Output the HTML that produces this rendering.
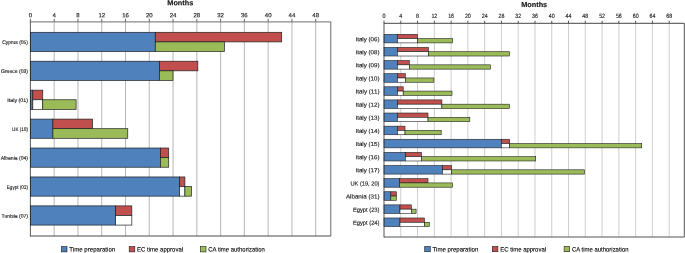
<!DOCTYPE html>
<html><head><meta charset="utf-8"><title>Months</title>
<style>
html,body{margin:0;padding:0;background:#fff;}
body{width:685px;height:253px;overflow:hidden;}
svg{display:block;font-family:"Liberation Sans",sans-serif;}
</style></head><body>
<svg width="685" height="253" viewBox="0 0 685 253">
<defs><filter id="soft" x="0" y="0" width="685" height="253" filterUnits="userSpaceOnUse"><feGaussianBlur stdDeviation="0.35"/></filter></defs>
<rect x="0" y="0" width="685" height="253" fill="#ffffff"/>
<g filter="url(#soft)">
<line x1="54.18" y1="21.80" x2="54.18" y2="236.00" stroke="#858585" stroke-width="0.6"/>
<line x1="77.95" y1="21.80" x2="77.95" y2="236.00" stroke="#858585" stroke-width="0.6"/>
<line x1="101.73" y1="21.80" x2="101.73" y2="236.00" stroke="#858585" stroke-width="0.6"/>
<line x1="125.50" y1="21.80" x2="125.50" y2="236.00" stroke="#858585" stroke-width="0.6"/>
<line x1="149.28" y1="21.80" x2="149.28" y2="236.00" stroke="#858585" stroke-width="0.6"/>
<line x1="173.06" y1="21.80" x2="173.06" y2="236.00" stroke="#858585" stroke-width="0.6"/>
<line x1="196.83" y1="21.80" x2="196.83" y2="236.00" stroke="#858585" stroke-width="0.6"/>
<line x1="220.61" y1="21.80" x2="220.61" y2="236.00" stroke="#858585" stroke-width="0.6"/>
<line x1="244.38" y1="21.80" x2="244.38" y2="236.00" stroke="#858585" stroke-width="0.6"/>
<line x1="268.16" y1="21.80" x2="268.16" y2="236.00" stroke="#858585" stroke-width="0.6"/>
<line x1="291.94" y1="21.80" x2="291.94" y2="236.00" stroke="#858585" stroke-width="0.6"/>
<line x1="315.71" y1="21.80" x2="315.71" y2="236.00" stroke="#858585" stroke-width="0.6"/>
<line x1="30.40" y1="21.80" x2="330.80" y2="21.80" stroke="#8a8a8a" stroke-width="1.2"/>
<line x1="330.80" y1="21.80" x2="330.80" y2="236.00" stroke="#5a5a5a" stroke-width="0.9"/>
<line x1="30.40" y1="236.00" x2="330.80" y2="236.00" stroke="#4a4a4a" stroke-width="1.0"/>
<line x1="30.40" y1="18.80" x2="30.40" y2="21.80" stroke="#555" stroke-width="0.9"/>
<text transform="rotate(0.03 30.40 17.30)" x="30.40" y="17.30" font-size="6.0" text-anchor="middle" font-weight="normal" fill="#111" stroke="#111" stroke-width="0.12">0</text>
<line x1="54.18" y1="18.80" x2="54.18" y2="21.80" stroke="#555" stroke-width="0.9"/>
<text transform="rotate(0.03 54.18 17.30)" x="54.18" y="17.30" font-size="6.0" text-anchor="middle" font-weight="normal" fill="#111" stroke="#111" stroke-width="0.12">4</text>
<line x1="77.95" y1="18.80" x2="77.95" y2="21.80" stroke="#555" stroke-width="0.9"/>
<text transform="rotate(0.03 77.95 17.30)" x="77.95" y="17.30" font-size="6.0" text-anchor="middle" font-weight="normal" fill="#111" stroke="#111" stroke-width="0.12">8</text>
<line x1="101.73" y1="18.80" x2="101.73" y2="21.80" stroke="#555" stroke-width="0.9"/>
<text transform="rotate(0.03 101.73 17.30)" x="101.73" y="17.30" font-size="6.0" text-anchor="middle" font-weight="normal" fill="#111" stroke="#111" stroke-width="0.12">12</text>
<line x1="125.50" y1="18.80" x2="125.50" y2="21.80" stroke="#555" stroke-width="0.9"/>
<text transform="rotate(0.03 125.50 17.30)" x="125.50" y="17.30" font-size="6.0" text-anchor="middle" font-weight="normal" fill="#111" stroke="#111" stroke-width="0.12">16</text>
<line x1="149.28" y1="18.80" x2="149.28" y2="21.80" stroke="#555" stroke-width="0.9"/>
<text transform="rotate(0.03 149.28 17.30)" x="149.28" y="17.30" font-size="6.0" text-anchor="middle" font-weight="normal" fill="#111" stroke="#111" stroke-width="0.12">20</text>
<line x1="173.06" y1="18.80" x2="173.06" y2="21.80" stroke="#555" stroke-width="0.9"/>
<text transform="rotate(0.03 173.06 17.30)" x="173.06" y="17.30" font-size="6.0" text-anchor="middle" font-weight="normal" fill="#111" stroke="#111" stroke-width="0.12">24</text>
<line x1="196.83" y1="18.80" x2="196.83" y2="21.80" stroke="#555" stroke-width="0.9"/>
<text transform="rotate(0.03 196.83 17.30)" x="196.83" y="17.30" font-size="6.0" text-anchor="middle" font-weight="normal" fill="#111" stroke="#111" stroke-width="0.12">28</text>
<line x1="220.61" y1="18.80" x2="220.61" y2="21.80" stroke="#555" stroke-width="0.9"/>
<text transform="rotate(0.03 220.61 17.30)" x="220.61" y="17.30" font-size="6.0" text-anchor="middle" font-weight="normal" fill="#111" stroke="#111" stroke-width="0.12">32</text>
<line x1="244.38" y1="18.80" x2="244.38" y2="21.80" stroke="#555" stroke-width="0.9"/>
<text transform="rotate(0.03 244.38 17.30)" x="244.38" y="17.30" font-size="6.0" text-anchor="middle" font-weight="normal" fill="#111" stroke="#111" stroke-width="0.12">36</text>
<line x1="268.16" y1="18.80" x2="268.16" y2="21.80" stroke="#555" stroke-width="0.9"/>
<text transform="rotate(0.03 268.16 17.30)" x="268.16" y="17.30" font-size="6.0" text-anchor="middle" font-weight="normal" fill="#111" stroke="#111" stroke-width="0.12">40</text>
<line x1="291.94" y1="18.80" x2="291.94" y2="21.80" stroke="#555" stroke-width="0.9"/>
<text transform="rotate(0.03 291.94 17.30)" x="291.94" y="17.30" font-size="6.0" text-anchor="middle" font-weight="normal" fill="#111" stroke="#111" stroke-width="0.12">44</text>
<line x1="315.71" y1="18.80" x2="315.71" y2="21.80" stroke="#555" stroke-width="0.9"/>
<text transform="rotate(0.03 315.71 17.30)" x="315.71" y="17.30" font-size="6.0" text-anchor="middle" font-weight="normal" fill="#111" stroke="#111" stroke-width="0.12">48</text>
<text transform="rotate(0.03 180.30 5.30)" x="180.30" y="5.30" font-size="7.3" text-anchor="middle" font-weight="bold" fill="#111" stroke="#111" stroke-width="0.12">Months</text>
<rect x="30.40" y="32.30" width="124.90" height="19.20" fill="#4f81bd" stroke="#202020" stroke-width="0.7"/>
<rect x="155.30" y="32.30" width="126.40" height="9.60" fill="#c0504d" stroke="#202020" stroke-width="0.7"/>
<rect x="155.30" y="41.90" width="69.10" height="9.60" fill="#9bbb59" stroke="#202020" stroke-width="0.7"/>
<text transform="rotate(0.03 28.00 44.10)" x="28.00" y="44.10" font-size="5.2" text-anchor="end" font-weight="normal" fill="#111" stroke="#111" stroke-width="0.12" textLength="25.8" lengthAdjust="spacingAndGlyphs">Cyprus (05)</text>
<rect x="30.40" y="61.23" width="129.10" height="19.20" fill="#4f81bd" stroke="#202020" stroke-width="0.7"/>
<rect x="159.50" y="61.23" width="38.30" height="9.60" fill="#c0504d" stroke="#202020" stroke-width="0.7"/>
<rect x="159.50" y="70.83" width="13.50" height="9.60" fill="#9bbb59" stroke="#202020" stroke-width="0.7"/>
<text transform="rotate(0.03 28.00 73.03)" x="28.00" y="73.03" font-size="5.2" text-anchor="end" font-weight="normal" fill="#111" stroke="#111" stroke-width="0.12" textLength="27.0" lengthAdjust="spacingAndGlyphs">Greece (03)</text>
<rect x="30.40" y="90.16" width="2.40" height="19.20" fill="#4f81bd" stroke="#202020" stroke-width="0.7"/>
<rect x="32.80" y="90.16" width="9.95" height="9.60" fill="#c0504d" stroke="#202020" stroke-width="0.7"/>
<rect x="32.80" y="99.76" width="9.95" height="9.60" fill="#fff" stroke="#202020" stroke-width="0.7"/>
<rect x="42.75" y="99.76" width="33.35" height="9.60" fill="#9bbb59" stroke="#202020" stroke-width="0.7"/>
<text transform="rotate(0.03 28.00 101.96)" x="28.00" y="101.96" font-size="5.2" text-anchor="end" font-weight="normal" fill="#111" stroke="#111" stroke-width="0.12" textLength="20.7" lengthAdjust="spacingAndGlyphs">Italy (01)</text>
<rect x="30.40" y="119.09" width="22.50" height="19.20" fill="#4f81bd" stroke="#202020" stroke-width="0.7"/>
<rect x="52.90" y="119.09" width="39.70" height="9.60" fill="#c0504d" stroke="#202020" stroke-width="0.7"/>
<rect x="52.90" y="128.69" width="74.85" height="9.60" fill="#9bbb59" stroke="#202020" stroke-width="0.7"/>
<text transform="rotate(0.03 28.00 130.89)" x="28.00" y="130.89" font-size="5.2" text-anchor="end" font-weight="normal" fill="#111" stroke="#111" stroke-width="0.12" textLength="15.9" lengthAdjust="spacingAndGlyphs">UK (18)</text>
<rect x="30.40" y="148.02" width="130.00" height="19.20" fill="#4f81bd" stroke="#202020" stroke-width="0.7"/>
<rect x="160.40" y="148.02" width="8.30" height="9.60" fill="#c0504d" stroke="#202020" stroke-width="0.7"/>
<rect x="160.40" y="157.62" width="8.30" height="9.60" fill="#9bbb59" stroke="#202020" stroke-width="0.7"/>
<text transform="rotate(0.03 28.00 159.82)" x="28.00" y="159.82" font-size="5.2" text-anchor="end" font-weight="normal" fill="#111" stroke="#111" stroke-width="0.12" textLength="27.3" lengthAdjust="spacingAndGlyphs">Albania (04)</text>
<rect x="30.40" y="176.95" width="149.20" height="19.20" fill="#4f81bd" stroke="#202020" stroke-width="0.7"/>
<rect x="179.60" y="176.95" width="5.30" height="9.60" fill="#c0504d" stroke="#202020" stroke-width="0.7"/>
<rect x="179.60" y="186.55" width="5.30" height="9.60" fill="#fff" stroke="#202020" stroke-width="0.7"/>
<rect x="184.90" y="186.55" width="6.60" height="9.60" fill="#9bbb59" stroke="#202020" stroke-width="0.7"/>
<text transform="rotate(0.03 28.00 188.75)" x="28.00" y="188.75" font-size="5.2" text-anchor="end" font-weight="normal" fill="#111" stroke="#111" stroke-width="0.12" textLength="21.2" lengthAdjust="spacingAndGlyphs">Egypt (02)</text>
<rect x="30.40" y="205.88" width="85.20" height="19.20" fill="#4f81bd" stroke="#202020" stroke-width="0.7"/>
<rect x="115.60" y="205.88" width="16.20" height="9.60" fill="#c0504d" stroke="#202020" stroke-width="0.7"/>
<rect x="115.60" y="215.48" width="16.20" height="9.60" fill="#fff" stroke="#202020" stroke-width="0.7"/>
<text transform="rotate(0.03 28.00 217.68)" x="28.00" y="217.68" font-size="5.2" text-anchor="end" font-weight="normal" fill="#111" stroke="#111" stroke-width="0.12" textLength="26.5" lengthAdjust="spacingAndGlyphs">Tunisia (07)</text>
<line x1="30.40" y1="21.30" x2="30.40" y2="236.50" stroke="#222" stroke-width="0.75"/>
<rect x="61.40" y="246.60" width="5.60" height="5.30" fill="#4f81bd" stroke="#202020" stroke-width="0.6"/>
<text transform="rotate(0.03 69.30 251.60)" x="69.30" y="251.60" font-size="6.3" textLength="45.9" lengthAdjust="spacingAndGlyphs" fill="#000" stroke="#000" stroke-width="0.12">Time preparation</text>
<rect x="129.20" y="246.60" width="5.60" height="5.30" fill="#c0504d" stroke="#202020" stroke-width="0.6"/>
<text transform="rotate(0.03 137.10 251.60)" x="137.10" y="251.60" font-size="6.3" textLength="46.0" lengthAdjust="spacingAndGlyphs" fill="#000" stroke="#000" stroke-width="0.12">EC time approval</text>
<rect x="200.40" y="246.60" width="5.60" height="5.30" fill="#9bbb59" stroke="#202020" stroke-width="0.6"/>
<text transform="rotate(0.03 208.30 251.60)" x="208.30" y="251.60" font-size="6.3" textLength="56.5" lengthAdjust="spacingAndGlyphs" fill="#000" stroke="#000" stroke-width="0.12">CA time authorization</text>
<line x1="400.78" y1="23.30" x2="400.78" y2="237.00" stroke="#adadad" stroke-width="0.6"/>
<line x1="417.55" y1="23.30" x2="417.55" y2="237.00" stroke="#adadad" stroke-width="0.6"/>
<line x1="434.33" y1="23.30" x2="434.33" y2="237.00" stroke="#adadad" stroke-width="0.6"/>
<line x1="451.10" y1="23.30" x2="451.10" y2="237.00" stroke="#adadad" stroke-width="0.6"/>
<line x1="467.88" y1="23.30" x2="467.88" y2="237.00" stroke="#adadad" stroke-width="0.6"/>
<line x1="484.66" y1="23.30" x2="484.66" y2="237.00" stroke="#adadad" stroke-width="0.6"/>
<line x1="501.43" y1="23.30" x2="501.43" y2="237.00" stroke="#adadad" stroke-width="0.6"/>
<line x1="518.21" y1="23.30" x2="518.21" y2="237.00" stroke="#adadad" stroke-width="0.6"/>
<line x1="534.98" y1="23.30" x2="534.98" y2="237.00" stroke="#adadad" stroke-width="0.6"/>
<line x1="551.76" y1="23.30" x2="551.76" y2="237.00" stroke="#adadad" stroke-width="0.6"/>
<line x1="568.54" y1="23.30" x2="568.54" y2="237.00" stroke="#adadad" stroke-width="0.6"/>
<line x1="585.31" y1="23.30" x2="585.31" y2="237.00" stroke="#adadad" stroke-width="0.6"/>
<line x1="602.09" y1="23.30" x2="602.09" y2="237.00" stroke="#adadad" stroke-width="0.6"/>
<line x1="618.86" y1="23.30" x2="618.86" y2="237.00" stroke="#adadad" stroke-width="0.6"/>
<line x1="635.64" y1="23.30" x2="635.64" y2="237.00" stroke="#adadad" stroke-width="0.6"/>
<line x1="652.42" y1="23.30" x2="652.42" y2="237.00" stroke="#adadad" stroke-width="0.6"/>
<line x1="669.19" y1="23.30" x2="669.19" y2="237.00" stroke="#adadad" stroke-width="0.6"/>
<line x1="384.00" y1="23.30" x2="684.30" y2="23.30" stroke="#444" stroke-width="1.0"/>
<line x1="684.30" y1="23.30" x2="684.30" y2="237.00" stroke="#555" stroke-width="1"/>
<line x1="384.00" y1="237.00" x2="684.30" y2="237.00" stroke="#555" stroke-width="1.0"/>
<line x1="384.00" y1="20.70" x2="384.00" y2="23.30" stroke="#444" stroke-width="0.9"/>
<text transform="rotate(0.03 384.00 18.35)" x="384.00" y="18.35" font-size="6.2" text-anchor="middle" font-weight="normal" fill="#111" stroke="#111" stroke-width="0.12" textLength="3.0" lengthAdjust="spacingAndGlyphs">0</text>
<line x1="400.78" y1="20.70" x2="400.78" y2="23.30" stroke="#444" stroke-width="0.9"/>
<text transform="rotate(0.03 400.78 18.35)" x="400.78" y="18.35" font-size="6.2" text-anchor="middle" font-weight="normal" fill="#111" stroke="#111" stroke-width="0.12" textLength="3.0" lengthAdjust="spacingAndGlyphs">4</text>
<line x1="417.55" y1="20.70" x2="417.55" y2="23.30" stroke="#444" stroke-width="0.9"/>
<text transform="rotate(0.03 417.55 18.35)" x="417.55" y="18.35" font-size="6.2" text-anchor="middle" font-weight="normal" fill="#111" stroke="#111" stroke-width="0.12" textLength="3.0" lengthAdjust="spacingAndGlyphs">8</text>
<line x1="434.33" y1="20.70" x2="434.33" y2="23.30" stroke="#444" stroke-width="0.9"/>
<text transform="rotate(0.03 434.33 18.35)" x="434.33" y="18.35" font-size="6.2" text-anchor="middle" font-weight="normal" fill="#111" stroke="#111" stroke-width="0.12" textLength="5.9" lengthAdjust="spacingAndGlyphs">12</text>
<line x1="451.10" y1="20.70" x2="451.10" y2="23.30" stroke="#444" stroke-width="0.9"/>
<text transform="rotate(0.03 451.10 18.35)" x="451.10" y="18.35" font-size="6.2" text-anchor="middle" font-weight="normal" fill="#111" stroke="#111" stroke-width="0.12" textLength="5.9" lengthAdjust="spacingAndGlyphs">16</text>
<line x1="467.88" y1="20.70" x2="467.88" y2="23.30" stroke="#444" stroke-width="0.9"/>
<text transform="rotate(0.03 467.88 18.35)" x="467.88" y="18.35" font-size="6.2" text-anchor="middle" font-weight="normal" fill="#111" stroke="#111" stroke-width="0.12" textLength="5.9" lengthAdjust="spacingAndGlyphs">20</text>
<line x1="484.66" y1="20.70" x2="484.66" y2="23.30" stroke="#444" stroke-width="0.9"/>
<text transform="rotate(0.03 484.66 18.35)" x="484.66" y="18.35" font-size="6.2" text-anchor="middle" font-weight="normal" fill="#111" stroke="#111" stroke-width="0.12" textLength="5.9" lengthAdjust="spacingAndGlyphs">24</text>
<line x1="501.43" y1="20.70" x2="501.43" y2="23.30" stroke="#444" stroke-width="0.9"/>
<text transform="rotate(0.03 501.43 18.35)" x="501.43" y="18.35" font-size="6.2" text-anchor="middle" font-weight="normal" fill="#111" stroke="#111" stroke-width="0.12" textLength="5.9" lengthAdjust="spacingAndGlyphs">28</text>
<line x1="518.21" y1="20.70" x2="518.21" y2="23.30" stroke="#444" stroke-width="0.9"/>
<text transform="rotate(0.03 518.21 18.35)" x="518.21" y="18.35" font-size="6.2" text-anchor="middle" font-weight="normal" fill="#111" stroke="#111" stroke-width="0.12" textLength="5.9" lengthAdjust="spacingAndGlyphs">32</text>
<line x1="534.98" y1="20.70" x2="534.98" y2="23.30" stroke="#444" stroke-width="0.9"/>
<text transform="rotate(0.03 534.98 18.35)" x="534.98" y="18.35" font-size="6.2" text-anchor="middle" font-weight="normal" fill="#111" stroke="#111" stroke-width="0.12" textLength="5.9" lengthAdjust="spacingAndGlyphs">36</text>
<line x1="551.76" y1="20.70" x2="551.76" y2="23.30" stroke="#444" stroke-width="0.9"/>
<text transform="rotate(0.03 551.76 18.35)" x="551.76" y="18.35" font-size="6.2" text-anchor="middle" font-weight="normal" fill="#111" stroke="#111" stroke-width="0.12" textLength="5.9" lengthAdjust="spacingAndGlyphs">40</text>
<line x1="568.54" y1="20.70" x2="568.54" y2="23.30" stroke="#444" stroke-width="0.9"/>
<text transform="rotate(0.03 568.54 18.35)" x="568.54" y="18.35" font-size="6.2" text-anchor="middle" font-weight="normal" fill="#111" stroke="#111" stroke-width="0.12" textLength="5.9" lengthAdjust="spacingAndGlyphs">44</text>
<line x1="585.31" y1="20.70" x2="585.31" y2="23.30" stroke="#444" stroke-width="0.9"/>
<text transform="rotate(0.03 585.31 18.35)" x="585.31" y="18.35" font-size="6.2" text-anchor="middle" font-weight="normal" fill="#111" stroke="#111" stroke-width="0.12" textLength="5.9" lengthAdjust="spacingAndGlyphs">48</text>
<line x1="602.09" y1="20.70" x2="602.09" y2="23.30" stroke="#444" stroke-width="0.9"/>
<text transform="rotate(0.03 602.09 18.35)" x="602.09" y="18.35" font-size="6.2" text-anchor="middle" font-weight="normal" fill="#111" stroke="#111" stroke-width="0.12" textLength="5.9" lengthAdjust="spacingAndGlyphs">52</text>
<line x1="618.86" y1="20.70" x2="618.86" y2="23.30" stroke="#444" stroke-width="0.9"/>
<text transform="rotate(0.03 618.86 18.35)" x="618.86" y="18.35" font-size="6.2" text-anchor="middle" font-weight="normal" fill="#111" stroke="#111" stroke-width="0.12" textLength="5.9" lengthAdjust="spacingAndGlyphs">56</text>
<line x1="635.64" y1="20.70" x2="635.64" y2="23.30" stroke="#444" stroke-width="0.9"/>
<text transform="rotate(0.03 635.64 18.35)" x="635.64" y="18.35" font-size="6.2" text-anchor="middle" font-weight="normal" fill="#111" stroke="#111" stroke-width="0.12" textLength="5.9" lengthAdjust="spacingAndGlyphs">60</text>
<line x1="652.42" y1="20.70" x2="652.42" y2="23.30" stroke="#444" stroke-width="0.9"/>
<text transform="rotate(0.03 652.42 18.35)" x="652.42" y="18.35" font-size="6.2" text-anchor="middle" font-weight="normal" fill="#111" stroke="#111" stroke-width="0.12" textLength="5.9" lengthAdjust="spacingAndGlyphs">64</text>
<line x1="669.19" y1="20.70" x2="669.19" y2="23.30" stroke="#444" stroke-width="0.9"/>
<text transform="rotate(0.03 669.19 18.35)" x="669.19" y="18.35" font-size="6.2" text-anchor="middle" font-weight="normal" fill="#111" stroke="#111" stroke-width="0.12" textLength="5.9" lengthAdjust="spacingAndGlyphs">68</text>
<text transform="rotate(0.03 534.20 7.00)" x="534.20" y="7.00" font-size="7.3" text-anchor="middle" font-weight="bold" fill="#111" stroke="#111" stroke-width="0.12">Months</text>
<rect x="384.00" y="34.30" width="13.40" height="8.60" fill="#4f81bd" stroke="#202020" stroke-width="0.6"/>
<rect x="397.40" y="34.30" width="20.00" height="4.30" fill="#c0504d" stroke="#202020" stroke-width="0.6"/>
<rect x="397.40" y="38.60" width="20.00" height="4.30" fill="#fff" stroke="#202020" stroke-width="0.6"/>
<rect x="417.40" y="38.60" width="35.20" height="4.30" fill="#9bbb59" stroke="#202020" stroke-width="0.6"/>
<text transform="rotate(0.03 379.50 41.15)" x="379.50" y="41.15" font-size="5.9" text-anchor="end" font-weight="normal" fill="#111" stroke="#111" stroke-width="0.12" textLength="24.0" lengthAdjust="spacingAndGlyphs">Italy (06)</text>
<rect x="384.00" y="47.42" width="13.40" height="8.60" fill="#4f81bd" stroke="#202020" stroke-width="0.6"/>
<rect x="397.40" y="47.42" width="31.10" height="4.30" fill="#c0504d" stroke="#202020" stroke-width="0.6"/>
<rect x="397.40" y="51.72" width="31.10" height="4.30" fill="#fff" stroke="#202020" stroke-width="0.6"/>
<rect x="428.50" y="51.72" width="81.00" height="4.30" fill="#9bbb59" stroke="#202020" stroke-width="0.6"/>
<text transform="rotate(0.03 379.50 54.27)" x="379.50" y="54.27" font-size="5.9" text-anchor="end" font-weight="normal" fill="#111" stroke="#111" stroke-width="0.12" textLength="24.0" lengthAdjust="spacingAndGlyphs">Italy (08)</text>
<rect x="384.00" y="60.54" width="13.40" height="8.60" fill="#4f81bd" stroke="#202020" stroke-width="0.6"/>
<rect x="397.40" y="60.54" width="11.90" height="4.30" fill="#c0504d" stroke="#202020" stroke-width="0.6"/>
<rect x="397.40" y="64.84" width="11.90" height="4.30" fill="#fff" stroke="#202020" stroke-width="0.6"/>
<rect x="409.30" y="64.84" width="81.20" height="4.30" fill="#9bbb59" stroke="#202020" stroke-width="0.6"/>
<text transform="rotate(0.03 379.50 67.39)" x="379.50" y="67.39" font-size="5.9" text-anchor="end" font-weight="normal" fill="#111" stroke="#111" stroke-width="0.12" textLength="24.0" lengthAdjust="spacingAndGlyphs">Italy (09)</text>
<rect x="384.00" y="73.66" width="13.40" height="8.60" fill="#4f81bd" stroke="#202020" stroke-width="0.6"/>
<rect x="397.40" y="73.66" width="7.90" height="4.30" fill="#c0504d" stroke="#202020" stroke-width="0.6"/>
<rect x="397.40" y="77.96" width="7.90" height="4.30" fill="#fff" stroke="#202020" stroke-width="0.6"/>
<rect x="405.30" y="77.96" width="28.60" height="4.30" fill="#9bbb59" stroke="#202020" stroke-width="0.6"/>
<text transform="rotate(0.03 379.50 80.51)" x="379.50" y="80.51" font-size="5.9" text-anchor="end" font-weight="normal" fill="#111" stroke="#111" stroke-width="0.12" textLength="24.0" lengthAdjust="spacingAndGlyphs">Italy (10)</text>
<rect x="384.00" y="86.78" width="13.40" height="8.60" fill="#4f81bd" stroke="#202020" stroke-width="0.6"/>
<rect x="397.40" y="86.78" width="5.80" height="4.30" fill="#c0504d" stroke="#202020" stroke-width="0.6"/>
<rect x="397.40" y="91.08" width="5.80" height="4.30" fill="#fff" stroke="#202020" stroke-width="0.6"/>
<rect x="403.20" y="91.08" width="48.80" height="4.30" fill="#9bbb59" stroke="#202020" stroke-width="0.6"/>
<text transform="rotate(0.03 379.50 93.63)" x="379.50" y="93.63" font-size="5.9" text-anchor="end" font-weight="normal" fill="#111" stroke="#111" stroke-width="0.12" textLength="24.0" lengthAdjust="spacingAndGlyphs">Italy (11)</text>
<rect x="384.00" y="99.90" width="13.40" height="8.60" fill="#4f81bd" stroke="#202020" stroke-width="0.6"/>
<rect x="397.40" y="99.90" width="44.50" height="4.30" fill="#c0504d" stroke="#202020" stroke-width="0.6"/>
<rect x="397.40" y="104.20" width="44.50" height="4.30" fill="#fff" stroke="#202020" stroke-width="0.6"/>
<rect x="441.90" y="104.20" width="67.60" height="4.30" fill="#9bbb59" stroke="#202020" stroke-width="0.6"/>
<text transform="rotate(0.03 379.50 106.75)" x="379.50" y="106.75" font-size="5.9" text-anchor="end" font-weight="normal" fill="#111" stroke="#111" stroke-width="0.12" textLength="24.0" lengthAdjust="spacingAndGlyphs">Italy (12)</text>
<rect x="384.00" y="113.02" width="13.40" height="8.60" fill="#4f81bd" stroke="#202020" stroke-width="0.6"/>
<rect x="397.40" y="113.02" width="30.60" height="4.30" fill="#c0504d" stroke="#202020" stroke-width="0.6"/>
<rect x="397.40" y="117.32" width="30.60" height="4.30" fill="#fff" stroke="#202020" stroke-width="0.6"/>
<rect x="428.00" y="117.32" width="41.80" height="4.30" fill="#9bbb59" stroke="#202020" stroke-width="0.6"/>
<text transform="rotate(0.03 379.50 119.87)" x="379.50" y="119.87" font-size="5.9" text-anchor="end" font-weight="normal" fill="#111" stroke="#111" stroke-width="0.12" textLength="24.0" lengthAdjust="spacingAndGlyphs">Italy (13)</text>
<rect x="384.00" y="126.14" width="13.40" height="8.60" fill="#4f81bd" stroke="#202020" stroke-width="0.6"/>
<rect x="397.40" y="126.14" width="7.60" height="4.30" fill="#c0504d" stroke="#202020" stroke-width="0.6"/>
<rect x="397.40" y="130.44" width="7.60" height="4.30" fill="#fff" stroke="#202020" stroke-width="0.6"/>
<rect x="405.00" y="130.44" width="36.20" height="4.30" fill="#9bbb59" stroke="#202020" stroke-width="0.6"/>
<text transform="rotate(0.03 379.50 132.99)" x="379.50" y="132.99" font-size="5.9" text-anchor="end" font-weight="normal" fill="#111" stroke="#111" stroke-width="0.12" textLength="24.0" lengthAdjust="spacingAndGlyphs">Italy (14)</text>
<rect x="384.00" y="139.26" width="117.40" height="8.60" fill="#4f81bd" stroke="#202020" stroke-width="0.6"/>
<rect x="501.40" y="139.26" width="8.30" height="4.30" fill="#c0504d" stroke="#202020" stroke-width="0.6"/>
<rect x="501.40" y="143.56" width="8.30" height="4.30" fill="#fff" stroke="#202020" stroke-width="0.6"/>
<rect x="509.70" y="143.56" width="132.00" height="4.30" fill="#9bbb59" stroke="#202020" stroke-width="0.6"/>
<text transform="rotate(0.03 379.50 146.11)" x="379.50" y="146.11" font-size="5.9" text-anchor="end" font-weight="normal" fill="#111" stroke="#111" stroke-width="0.12" textLength="24.0" lengthAdjust="spacingAndGlyphs">Italy (15)</text>
<rect x="384.00" y="152.38" width="21.30" height="8.60" fill="#4f81bd" stroke="#202020" stroke-width="0.6"/>
<rect x="405.30" y="152.38" width="16.20" height="4.30" fill="#c0504d" stroke="#202020" stroke-width="0.6"/>
<rect x="405.30" y="156.68" width="16.20" height="4.30" fill="#fff" stroke="#202020" stroke-width="0.6"/>
<rect x="421.50" y="156.68" width="114.20" height="4.30" fill="#9bbb59" stroke="#202020" stroke-width="0.6"/>
<text transform="rotate(0.03 379.50 159.23)" x="379.50" y="159.23" font-size="5.9" text-anchor="end" font-weight="normal" fill="#111" stroke="#111" stroke-width="0.12" textLength="24.0" lengthAdjust="spacingAndGlyphs">Italy (16)</text>
<rect x="384.00" y="165.50" width="58.50" height="8.60" fill="#4f81bd" stroke="#202020" stroke-width="0.6"/>
<rect x="442.50" y="165.50" width="9.10" height="4.30" fill="#c0504d" stroke="#202020" stroke-width="0.6"/>
<rect x="442.50" y="169.80" width="9.10" height="4.30" fill="#fff" stroke="#202020" stroke-width="0.6"/>
<rect x="451.60" y="169.80" width="132.90" height="4.30" fill="#9bbb59" stroke="#202020" stroke-width="0.6"/>
<text transform="rotate(0.03 379.50 172.35)" x="379.50" y="172.35" font-size="5.9" text-anchor="end" font-weight="normal" fill="#111" stroke="#111" stroke-width="0.12" textLength="24.0" lengthAdjust="spacingAndGlyphs">Italy (17)</text>
<rect x="384.00" y="178.62" width="15.70" height="8.60" fill="#4f81bd" stroke="#202020" stroke-width="0.6"/>
<rect x="399.70" y="178.62" width="28.30" height="4.30" fill="#c0504d" stroke="#202020" stroke-width="0.6"/>
<rect x="399.70" y="182.92" width="52.90" height="4.30" fill="#9bbb59" stroke="#202020" stroke-width="0.6"/>
<text transform="rotate(0.03 379.50 185.47)" x="379.50" y="185.47" font-size="5.9" text-anchor="end" font-weight="normal" fill="#111" stroke="#111" stroke-width="0.12" textLength="29.1" lengthAdjust="spacingAndGlyphs">UK (19, 20)</text>
<rect x="384.00" y="191.74" width="6.80" height="8.60" fill="#4f81bd" stroke="#202020" stroke-width="0.6"/>
<rect x="390.80" y="191.74" width="5.60" height="4.30" fill="#c0504d" stroke="#202020" stroke-width="0.6"/>
<rect x="390.80" y="196.04" width="5.60" height="4.30" fill="#9bbb59" stroke="#202020" stroke-width="0.6"/>
<text transform="rotate(0.03 379.50 198.59)" x="379.50" y="198.59" font-size="5.9" text-anchor="end" font-weight="normal" fill="#111" stroke="#111" stroke-width="0.12" textLength="33.6" lengthAdjust="spacingAndGlyphs">Albania (31)</text>
<rect x="384.00" y="204.86" width="16.00" height="8.60" fill="#4f81bd" stroke="#202020" stroke-width="0.6"/>
<rect x="400.00" y="204.86" width="11.30" height="4.30" fill="#c0504d" stroke="#202020" stroke-width="0.6"/>
<rect x="400.00" y="209.16" width="11.30" height="4.30" fill="#fff" stroke="#202020" stroke-width="0.6"/>
<rect x="411.30" y="209.16" width="4.80" height="4.30" fill="#9bbb59" stroke="#202020" stroke-width="0.6"/>
<text transform="rotate(0.03 379.50 211.71)" x="379.50" y="211.71" font-size="5.9" text-anchor="end" font-weight="normal" fill="#111" stroke="#111" stroke-width="0.12" textLength="26.6" lengthAdjust="spacingAndGlyphs">Egypt (23)</text>
<rect x="384.00" y="217.98" width="16.00" height="8.60" fill="#4f81bd" stroke="#202020" stroke-width="0.6"/>
<rect x="400.00" y="217.98" width="24.50" height="4.30" fill="#c0504d" stroke="#202020" stroke-width="0.6"/>
<rect x="400.00" y="222.28" width="24.50" height="4.30" fill="#fff" stroke="#202020" stroke-width="0.6"/>
<rect x="424.50" y="222.28" width="4.80" height="4.30" fill="#9bbb59" stroke="#202020" stroke-width="0.6"/>
<text transform="rotate(0.03 379.50 224.83)" x="379.50" y="224.83" font-size="5.9" text-anchor="end" font-weight="normal" fill="#111" stroke="#111" stroke-width="0.12" textLength="26.6" lengthAdjust="spacingAndGlyphs">Egypt (24)</text>
<line x1="384.00" y1="22.80" x2="384.00" y2="237.50" stroke="#444" stroke-width="0.9"/>
<rect x="424.70" y="246.40" width="5.60" height="5.30" fill="#4f81bd" stroke="#202020" stroke-width="0.6"/>
<text transform="rotate(0.03 432.60 251.50)" x="432.60" y="251.50" font-size="6.3" textLength="45.7" lengthAdjust="spacingAndGlyphs" fill="#000" stroke="#000" stroke-width="0.12">Time preparation</text>
<rect x="492.30" y="246.40" width="5.60" height="5.30" fill="#c0504d" stroke="#202020" stroke-width="0.6"/>
<text transform="rotate(0.03 500.20 251.50)" x="500.20" y="251.50" font-size="6.3" textLength="45.9" lengthAdjust="spacingAndGlyphs" fill="#000" stroke="#000" stroke-width="0.12">EC time approval</text>
<rect x="564.10" y="246.40" width="5.60" height="5.30" fill="#9bbb59" stroke="#202020" stroke-width="0.6"/>
<text transform="rotate(0.03 572.00 251.50)" x="572.00" y="251.50" font-size="6.3" textLength="56.5" lengthAdjust="spacingAndGlyphs" fill="#000" stroke="#000" stroke-width="0.12">CA time authorization</text>
</g>
</svg>
</body></html>
